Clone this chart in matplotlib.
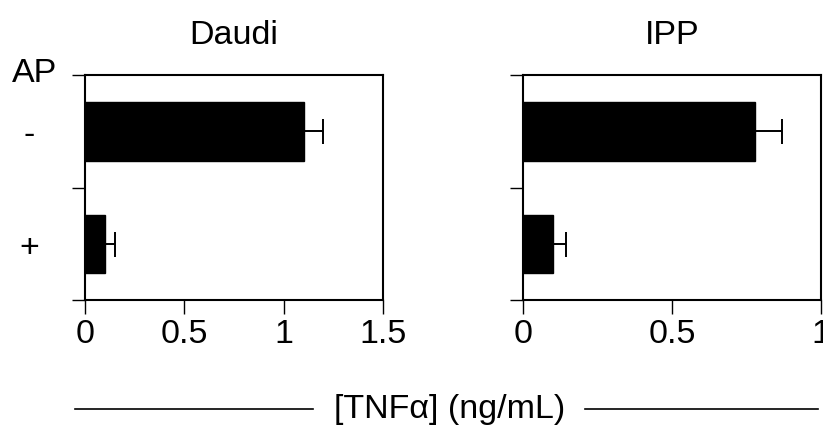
import matplotlib
matplotlib.use('Agg')
import matplotlib.pyplot as plt
from matplotlib.lines import Line2D
from matplotlib.ticker import FormatStrFormatter

plt.rcParams['font.family'] = ['Liberation Sans', 'DejaVu Sans']

# data
ap_labels = ['-', '+']
panels = ['Daudi', 'IPP']
daudi_vals = [1.10, 0.10]
daudi_err = [0.10, 0.05]
ipp_vals = [0.78, 0.10]
ipp_err = [0.09, 0.045]
daudi_ticks = [0, 0.5, 1, 1.5]
ipp_ticks = [0, 0.5, 1]

fs = 24.5
fig = plt.figure(figsize=(8.23, 4.27), dpi=100)
ax1 = fig.add_axes([85/823, 1-301/427, 298/823, 225/427])
ax2 = fig.add_axes([523/823, 1-301/427, 298/823, 225/427])

ypos = [0.5, 1.5]
for ax, title, vals, errs, ticks in [(ax1, panels[0], daudi_vals, daudi_err, daudi_ticks),
                                     (ax2, panels[1], ipp_vals, ipp_err, ipp_ticks)]:
    ax.barh(ypos, vals, height=0.52, color='black', edgecolor='black', linewidth=1,
            xerr=[[0]*len(errs), errs], error_kw=dict(ecolor='black', elinewidth=1.4, capsize=9, capthick=1.4))
    ax.set_ylim(2, 0)
    ax.set_xlim(ticks[0], ticks[-1])
    ax.set_xticks(ticks)
    ax.xaxis.set_major_formatter(FormatStrFormatter('%g'))
    ax.set_yticks([0, 1, 2])
    ax.set_yticklabels([])
    ax.set_yticks(ypos, minor=True)
    ax.tick_params(axis='y', which='major', length=9.5, width=1, direction='out')
    ax.tick_params(axis='x', which='major', length=10, width=1, direction='out', labelsize=fs, pad=3)
    ax.tick_params(axis='y', which='minor', length=0)
    for s in ax.spines.values():
        s.set_linewidth(1.5)
    ax.set_title(title, fontsize=fs, pad=23)

ax1.set_yticklabels(ap_labels, minor=True, fontsize=fs, ha='center')
ax1.tick_params(axis='y', which='minor', pad=40)
fig.text(12/823, 1-74/427, 'AP', fontsize=fs, va='center', ha='left')

# shared x label with lines
ly = 1 - 410/427
fig.text(450/823, ly, '[TNFα] (ng/mL)', fontsize=fs, ha='center', va='center')
fig.add_artist(Line2D([75/823, 313/823], [ly, ly], color='black', lw=1.2))
fig.add_artist(Line2D([585/823, 818/823], [ly, ly], color='black', lw=1.2))

plt.savefig('out.png', dpi=100)
